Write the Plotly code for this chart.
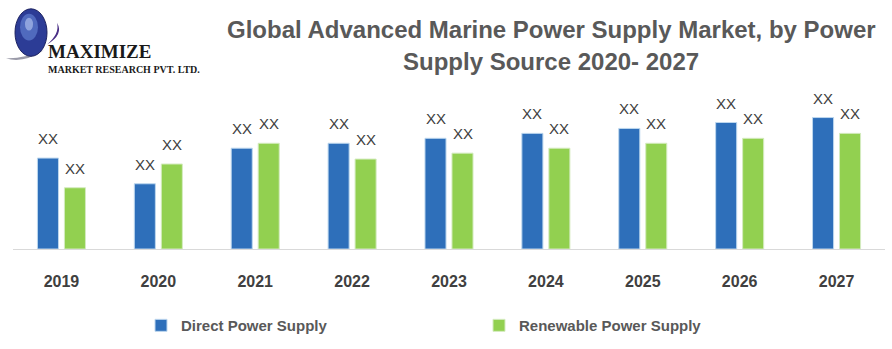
import plotly.graph_objects as go

# ---- data (arbitrary units; labels shown as "XX") ----
years = ["2019", "2020", "2021", "2022", "2023", "2024", "2025", "2026", "2027"]
direct_power = [9.2, 6.6, 10.2, 10.7, 11.2, 11.7, 12.2, 12.8, 13.3]
renewable_power = [6.2, 8.6, 10.7, 9.1, 9.7, 10.2, 10.7, 11.2, 11.7]
value_label = "XX"
series_names = ["Direct Power Supply", "Renewable Power Supply"]
title_lines = ["Global Advanced Marine Power Supply Market, by Power",
               "Supply Source 2020- 2027"]
logo_big = "MAXIMIZE"
logo_small = "MARKET RESEARCH PVT. LTD."

W, H = 892, 349
L, R, T, B = 13, 7, 80, 98
PW, PH = W - L - R, H - T - B


def px(x):
    return (x - L) / PW


def py(y):
    return (H - B - y) / PH


BLUE = "#2e6fba"
GREEN = "#92d050"

fig = go.Figure()
fig.add_trace(go.Bar(x=years, y=direct_power, name="<b>%s</b>" % series_names[0],
                     marker=dict(color=BLUE, line=dict(color="#bdd7ee", width=1))))
fig.add_trace(go.Bar(x=years, y=renewable_power, name="<b>%s</b>" % series_names[1],
                     marker=dict(color=GREEN, line=dict(color="#d5ebc0", width=1))))

annotations = []
label_font = dict(family="Liberation Sans, Arial", size=15, color="#404040")
# category axis positions are indices of the categories
for i, v in enumerate(direct_power):
    annotations.append(dict(x=i, y=v, xref="x", yref="y", text=value_label,
                            showarrow=False, xshift=-13.5, yshift=9,
                            yanchor="bottom", font=label_font))
for i, v in enumerate(renewable_power):
    annotations.append(dict(x=i, y=v, xref="x", yref="y", text=value_label,
                            showarrow=False, xshift=13.5, yshift=9,
                            yanchor="bottom", font=label_font))

# title lines
annotations.append(dict(x=px(551), y=py(28.5), xref="paper", yref="paper",
                        text="<b>%s</b>" % title_lines[0], showarrow=False,
                        xanchor="center", yanchor="middle",
                        font=dict(family="Liberation Sans, Arial", size=24, color="#595959")))
annotations.append(dict(x=px(551), y=py(61.5), xref="paper", yref="paper",
                        text="<b>%s</b>" % title_lines[1], showarrow=False,
                        xanchor="center", yanchor="middle",
                        font=dict(family="Liberation Sans, Arial", size=24, color="#595959")))
# logo text
annotations.append(dict(x=px(46), y=py(51), xref="paper", yref="paper",
                        text="<b>%s</b>" % logo_big, showarrow=False,
                        xanchor="left", yanchor="middle",
                        font=dict(family="Liberation Serif, Times New Roman", size=19, color="#1a1a1a")))
annotations.append(dict(x=px(46), y=py(69), xref="paper", yref="paper",
                        text="<b>%s</b>" % logo_small, showarrow=False,
                        xanchor="left", yanchor="middle",
                        font=dict(family="Liberation Serif, Times New Roman", size=10, color="#1a1a1a")))

shapes = []
# swoosh (lower gray part)
shapes.append(dict(type="path", xref="paper", yref="paper",
                   path="M %f,%f Q %f,%f %f,%f Q %f,%f %f,%f Z" % (
                       px(6), py(58), px(22), py(64), px(44), py(50),
                       px(22), py(59), px(6), py(58)),
                   fillcolor="#9a9aa8", line=dict(width=0)))
# globe
shapes.append(dict(type="circle", xref="paper", yref="paper",
                   x0=px(15), x1=px(47), y0=py(56), y1=py(8),
                   fillcolor="#2c3c96", line=dict(color="#1b2160", width=1)))
shapes.append(dict(type="circle", xref="paper", yref="paper",
                   x0=px(20), x1=px(38), y0=py(40), y1=py(13),
                   fillcolor="#6f8fe0", opacity=0.55, line=dict(width=0)))
shapes.append(dict(type="circle", xref="paper", yref="paper",
                   x0=px(25), x1=px(33), y0=py(30), y1=py(17),
                   fillcolor="#b9c9f2", opacity=0.6, line=dict(width=0)))
# swoosh (upper purple part)
shapes.append(dict(type="path", xref="paper", yref="paper",
                   path="M %f,%f Q %f,%f %f,%f Q %f,%f %f,%f Z" % (
                       px(47), py(44), px(64), py(34), px(57), py(22),
                       px(60), py(33), px(47), py(44)),
                   fillcolor="#4a2f86", line=dict(width=0)))

fig.update_layout(
    width=W, height=H,
    margin=dict(l=L, r=R, t=T, b=B, pad=0),
    paper_bgcolor="white", plot_bgcolor="white",
    barmode="group", bargap=0.443, bargroupgap=0.22,
    showlegend=True,
    legend=dict(orientation="h", x=px(141), xanchor="left",
                y=py(328.5), yanchor="middle",
                entrywidth=293, entrywidthmode="pixels",
                font=dict(family="Liberation Sans, Arial", size=15, color="#595959"),
                bgcolor="rgba(0,0,0,0)", borderwidth=0),
    annotations=annotations,
    shapes=shapes,
    xaxis=dict(type="category", range=[-0.5, len(years) - 0.5],
               showline=True, linecolor="#d9d9d9", linewidth=1,
               showgrid=False, ticks="", ticklabelstandoff=18, zeroline=False,
               tickfont=dict(family="Liberation Sans, Arial", size=16, color="#404040"),
               tickprefix="<b>", ticksuffix="</b>", fixedrange=True),
    yaxis=dict(range=[0, PH / 10.0], visible=False, showgrid=False, zeroline=False,
               fixedrange=True),
)
fig.update_traces(hoverinfo="skip")

fig.write_html("out.html", config={"displayModeBar": False})
